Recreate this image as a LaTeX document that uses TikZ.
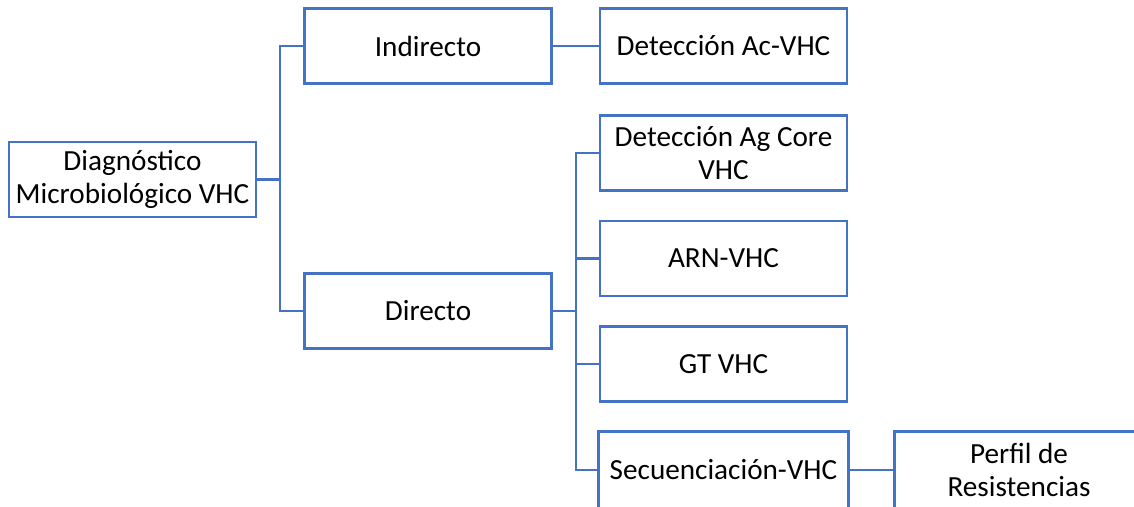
\documentclass[tikz,border=0pt]{standalone}
\usepackage{fontspec}
\setmainfont{Carlito}
\usetikzlibrary{calc}
\definecolor{officeblue}{HTML}{4472C4}
\tikzset{
  box/.style={draw=officeblue, line width=2.6pt, fill=white, minimum width=247pt,
    minimum height=75pt, inner sep=0pt, align=center,
    font=\fontsize{29.2}{33.5}\selectfont},
  link/.style={draw=officeblue, line width=2.6pt},
}
\begin{document}
\begin{tikzpicture}[x=1pt,y=-1pt]
  \useasboundingbox (0,0) rectangle (1134,506);
  \clip (0,0) rectangle (1134,506);
  % level 0
  \node[box] (root) at (132.5,179.5) {Diagnóstico\\Microbiológico VHC};
  % level 1
  \node[box] (ind) at (428,46) {Indirecto};
  \node[box] (dir) at (428,311) {Directo};
  % level 2
  \node[box] (ac)  at (723.5,46)  {Detección Ac-VHC};
  \node[box] (ag)  at (723.5,153) {Detección Ag Core\\VHC};
  \node[box] (arn) at (723.5,258.5) {ARN-VHC};
  \node[box] (gt)  at (723.5,364) {GT VHC};
  \node[box, draw=none] (sec) at (723.5,470) {Secuenciación-VHC};
  % level 3
  \node[box, draw=none] (per) at (1019,470) {Perfil de\\Resistencias};
  % outlines of the boxes running past the lower and right edges
  \draw[link] ($(sec.south west)+(0,20)$) -- (sec.north west) -- (sec.north east)
    -- ($(sec.south east)+(0,20)$);
  \draw[link] ($(per.south west)+(0,20)$) -- (per.north west)
    -- ($(per.north east)+(30,0)$);
  % connectors
  \coordinate (j0) at (280,0);
  \coordinate (j1) at (576,0);
  \draw[link] (root.east) -- (root.east -| j0);
  \draw[link] (ind.west) -| (j0 |- root.east) |- (dir.west);
  \draw[link] (ind.east) -- (ac.west);
  \draw[link] (dir.east) -- (dir.east -| j1);
  \draw[link] (ag.west) -| (j1 |- dir.east) |- (sec.west);
  \draw[link] (arn.west) -- (arn.west -| j1);
  \draw[link] (gt.west) -- (gt.west -| j1);
  \draw[link] (sec.east) -- (per.west);
\end{tikzpicture}
\end{document}
